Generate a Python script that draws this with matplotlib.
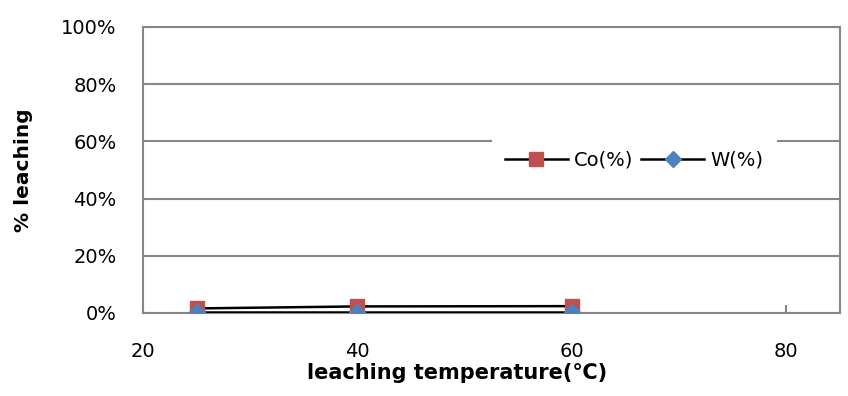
import matplotlib
matplotlib.use("Agg")
import matplotlib.pyplot as plt
from matplotlib.ticker import FuncFormatter

plt.rcParams["font.family"] = ["DejaVu Sans", "Noto Sans CJK KR"]

# leaching temperature (deg C) and leaching fractions (%)
temps = [25, 40, 60]
co_pct = [1.6, 2.3, 2.4]
w_pct = [0.3, 0.3, 0.3]
series_names = ["Co(%)", "W(%)"]

x_ticks = [20, 40, 60, 80]
y_ticks = [0, 20, 40, 60, 80, 100]

grey = "#878787"

fig = plt.figure(figsize=(8.48, 3.96), dpi=100)
ax = fig.add_axes([143 / 848, 83 / 396, 697 / 848, 286 / 396])

ax.plot(temps, co_pct, color="black", lw=1.8, marker="s", ms=10.5,
        mfc="#C0504D", mec="#C0504D", label=series_names[0], zorder=3)
ax.plot(temps, w_pct, color="black", lw=1.8, marker="D", ms=8,
        mfc="#4F81BD", mec="#4F81BD", label=series_names[1], zorder=4)

ax.set_xlim(20, 85)
ax.set_ylim(0, 100)
ax.set_xticks(x_ticks)
ax.set_yticks(y_ticks)
ax.yaxis.set_major_formatter(FuncFormatter(lambda v, p: f"{v:.0f}%"))

ax.grid(axis="y", color=grey, lw=1.5, zorder=0)
ax.set_axisbelow(True)
for s in ax.spines.values():
    s.set_color(grey)
    s.set_linewidth(1.5)

ax.tick_params(axis="y", length=0, pad=19, labelsize=14)
ax.tick_params(axis="x", direction="in", length=6, width=1.5, color=grey,
               pad=21, labelsize=14)

ax.set_ylabel("% leaching", fontsize=14.5, fontweight="bold", labelpad=20)
ax.set_xlabel("leaching temperature(℃)", fontsize=15, fontweight="bold")
ax.xaxis.set_label_coords(0.45, -0.175)

leg = ax.legend(loc="center", bbox_to_anchor=(0.705, 0.535), ncol=2,
                frameon=True, fontsize=14, handlelength=3.2,
                handletextpad=0.35, columnspacing=0.4, borderpad=0.7,
                fancybox=False)
leg.get_frame().set_edgecolor("none")
leg.get_frame().set_facecolor("white")
leg.get_frame().set_alpha(1)

fig.savefig("out.png", dpi=100)
